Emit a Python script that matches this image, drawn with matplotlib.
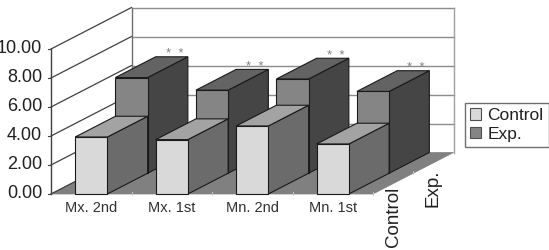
import matplotlib
matplotlib.use("Agg")
import matplotlib.pyplot as plt
from matplotlib.patches import Polygon, Patch
import numpy as np

plt.rcParams['font.family'] = ['Liberation Sans', 'DejaVu Sans']

categories = ["Mx. 2nd", "Mx. 1st", "Mn. 2nd", "Mn. 1st"]
series_names = ["Control", "Exp."]
control = [3.93, 3.75, 4.69, 3.45]
exp = [6.6, 5.73, 6.5, 5.64]
y_ticks = [0, 2, 4, 6, 8, 10]

# oblique projection of (category, depth, value) onto figure pixels
X0, Y0 = 51.0, 194.0
CAT_W = 80.5
DEPTH_X, DEPTH_Y = 80.5, 41.5
UNIT = 14.5
BAR_W = 0.4


def proj(c, d, v):
    return X0 + c * CAT_W + d * DEPTH_X, Y0 - v * UNIT - d * DEPTH_Y


def quad(ax, pts, color, edge="#1a1a1a", lw=0.8, z=3):
    ax.add_patch(Polygon([proj(*p) for p in pts], closed=True, facecolor=color,
                         edgecolor=edge, linewidth=lw, zorder=z, joinstyle="miter"))


def bar3d(ax, i, d0, d1, v, front, top, side, z):
    c0 = i + 0.5 - BAR_W / 2
    c1 = i + 0.5 + BAR_W / 2
    quad(ax, [(c1, d0, 0), (c1, d1, 0), (c1, d1, v), (c1, d0, v)], side, z=z)
    quad(ax, [(c0, d0, v), (c1, d0, v), (c1, d1, v), (c0, d1, v)], top, z=z)
    quad(ax, [(c0, d0, 0), (c1, d0, 0), (c1, d0, v), (c0, d0, v)], front, z=z)


fig = plt.figure(figsize=(5.49, 2.5), dpi=100)
ax = fig.add_axes([0, 0, 1, 1])
ax.set_xlim(0, 549)
ax.set_ylim(250, 0)
ax.axis("off")

n = len(categories)

# floor
ax.add_patch(Polygon([proj(0, 0, 0), proj(n, 0, 0), proj(n, 1, 0), proj(0, 1, 0)],
                     closed=True, facecolor="#808080", edgecolor="#808080", linewidth=0.5, zorder=1))

# walls and gridlines
for t in y_ticks:
    xs, ys = zip(proj(0, 0, t), proj(0, 1, t))
    ax.plot(xs, ys, color="#404040", lw=0.9, zorder=2)
    xs, ys = zip(proj(0, 1, t), proj(n, 1, t))
    if t > 0:
        ax.plot(xs, ys, color="#8c8c8c", lw=1.0, zorder=2)
    x, y = proj(0, 0, t)
    ax.plot([x - 3, x], [y, y], color="#404040", lw=0.8, zorder=2)
    ax.text(x - 9, y - 0.5, "%.2f" % t, ha="right", va="center", fontsize=13, color="#202020")

for pts, col in [(((0, 0, 0), (0, 0, 10)), "#404040"),
                 (((0, 1, 0), (0, 1, 10)), "#707070"),
                 (((n, 1, 0), (n, 1, 10)), "#a0a0a0")]:
    xs, ys = zip(*[proj(*p) for p in pts])
    ax.plot(xs, ys, color=col, lw=1.0, zorder=2)

# small ticks along the floor edges
for i in range(1, n + 1):
    x, y = proj(i, 0, 0)
    ax.plot([x, x], [y - 2, y + 1], color="#c8c8c8", lw=0.7, zorder=2)
x, y = proj(n, 0.5, 0)
ax.plot([x, x], [y - 2, y + 1], color="#c8c8c8", lw=0.7, zorder=2)

for i in range(n):
    bar3d(ax, i, 0.5, 1.0, exp[i], "#858585", "#636363", "#454545", 3 + 2 * i)
    bar3d(ax, i, 0.0, 0.5, control[i], "#d9d9d9", "#a3a3a3", "#6b6b6b", 4 + 2 * i)
    x, y = proj(i + 0.5, 1.0, exp[i])
    ax.annotate("*  *", (x, y), xytext=(2, -2.5), textcoords="offset points", ha="center", va="bottom",
                fontsize=9.5, color="#808080", zorder=20)
    x, y = proj(i + 0.5, 0, 0)
    ax.text(x, y + 14.5, categories[i], ha="center", va="center", fontsize=10.5, color="#303030")

# series names along the depth axis
for name, d, off in [(series_names[0], 0.25, 3), (series_names[1], 0.75, 7)]:
    x, y = proj(n, d, 0)
    ax.text(x, y + off, name, rotation=90, ha="center", va="top", fontsize=13.5, color="#202020")

handles = [Patch(facecolor="#d9d9d9", edgecolor="#505050", linewidth=0.8),
           Patch(facecolor="#858585", edgecolor="#505050", linewidth=0.8)]
leg = ax.legend(handles, series_names, loc="lower left", bbox_to_anchor=(465 / 549, 1 - 147 / 250),
                bbox_transform=fig.transFigure, borderaxespad=0, frameon=True, fancybox=False,
                fontsize=12.5, handlelength=0.65, handleheight=0.65, handletextpad=0.35,
                borderpad=0.3, labelspacing=0.2)
leg.get_frame().set_edgecolor("#707070")
leg.get_frame().set_linewidth(1.0)
leg.get_frame().set_alpha(1)
for t in leg.get_texts():
    t.set_color("#202020")

fig.savefig("out.png", dpi=100)
